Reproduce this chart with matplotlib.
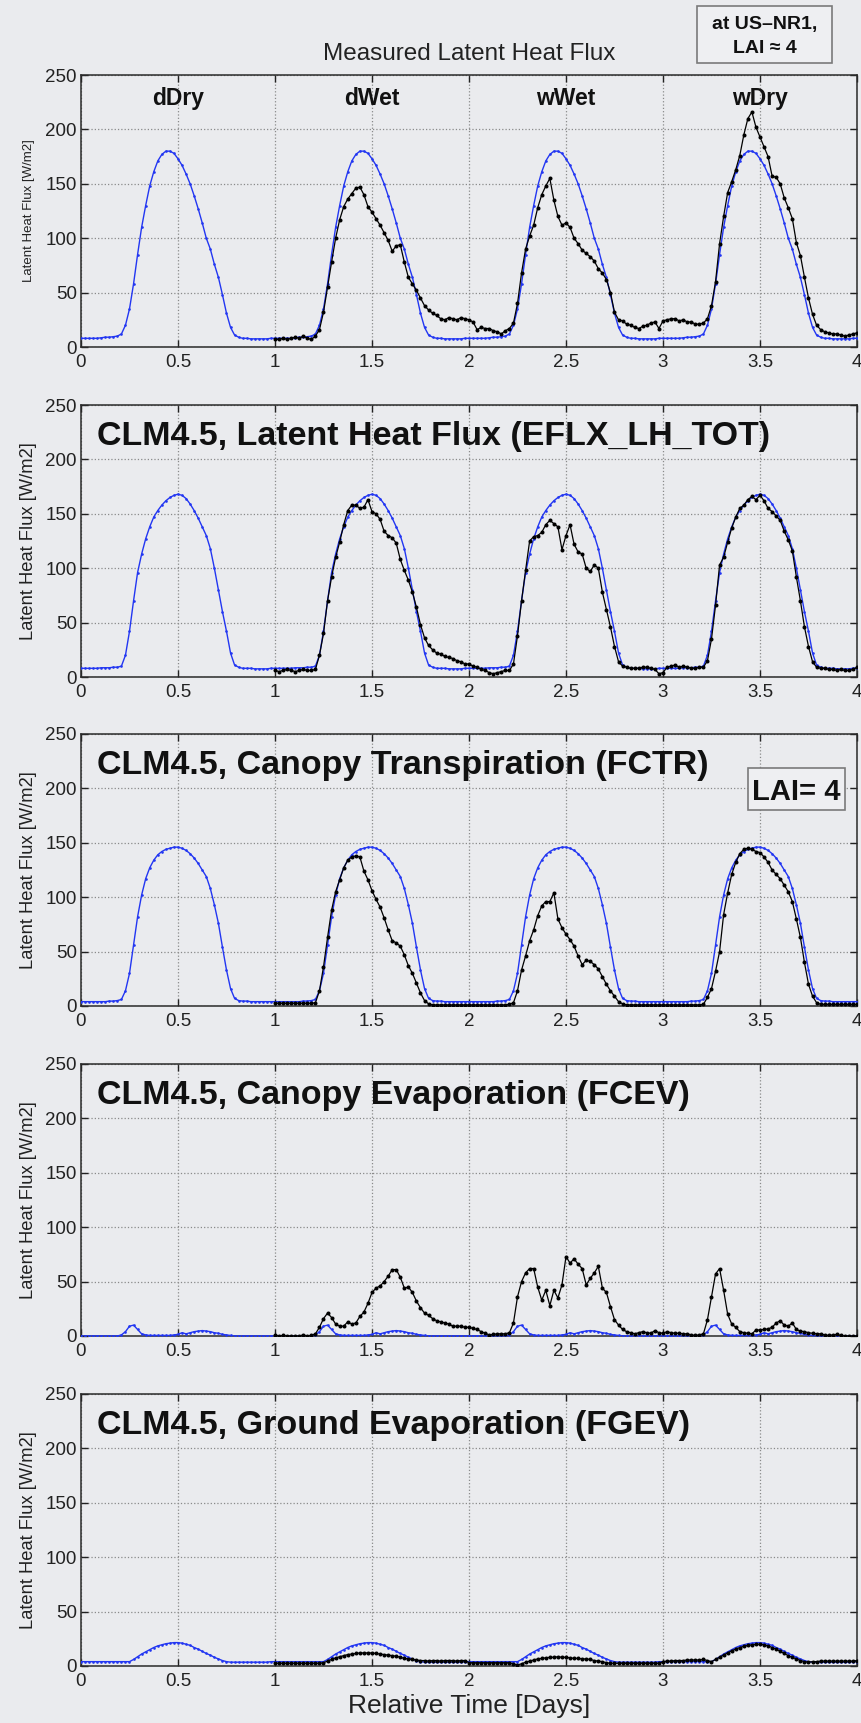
import numpy as np
import matplotlib
matplotlib.use("Agg")
import matplotlib.pyplot as plt
from matplotlib.patches import Rectangle

# ---------------- data (half-hourly, 48 per day) ----------------
x_ticks = [0, 0.5, 1, 1.5, 2, 2.5, 3, 3.5, 4]
x_tick_labels = ["0", "0.5", "1", "1.5", "2", "2.5", "3", "3.5", "4"]
y_ticks = [0, 50, 100, 150, 200, 250]

panel_titles = ["", "CLM4.5, Latent Heat Flux (EFLX_LH_TOT)",
                "CLM4.5, Canopy Transpiration (FCTR)",
                "CLM4.5, Canopy Evaporation (FCEV)",
                "CLM4.5, Ground Evaporation (FGEV)"]
regime_labels = ["dDry", "dWet", "wWet", "wDry"]
regime_pos = [0.5, 1.5, 2.5, 3.5]

# blue: one diurnal cycle (repeated each day in the figure)
meas_blue_day = [8, 8, 8, 8, 8, 8.5, 9, 9, 9.5, 10, 12, 20,
                 35, 58, 85, 110, 130, 148, 161, 171, 177, 180, 180, 178,
                 173, 167, 159, 150, 139, 127, 114, 100, 90, 76, 64, 48,
                 31, 18, 11, 9, 8, 8, 7.5, 7.5, 7.5, 7.5, 7.5, 8]
meas_black = [7, 7, 8, 7, 8, 9, 8, 10, 8, 7, 10, 16,
              32, 55, 78, 100, 117, 129, 136, 141, 146, 147, 140, 129,
              124, 118, 112, 105, 98, 88, 93, 94, 78, 64, 58, 52,
              45, 38, 34, 31, 29, 26, 25, 27, 26, 25, 27, 26,
              25, 23, 16, 18, 17, 17, 15, 14, 12, 15, 17, 22,
              40, 68, 90, 102, 112, 128, 140, 148, 155, 135, 120, 112,
              114, 110, 100, 95, 89, 86, 83, 79, 72, 68, 62, 50,
              32, 25, 24, 21, 20, 18, 17, 19, 20, 22, 23, 17,
              24, 25, 26, 26, 24, 25, 23, 23, 21, 21, 22, 26,
              38, 60, 95, 120, 142, 152, 163, 176, 195, 210, 216, 202,
              193, 184, 175, 157, 156, 150, 137, 128, 118, 96, 84, 64,
              45, 30, 20, 16, 14, 13, 12, 12, 11, 10, 11, 12,
              13]

lh_blue_day = [8, 8, 8, 8, 8, 8.5, 8.5, 8.5, 9, 9, 10, 20,
               42, 70, 96, 113, 127, 138, 147, 153, 158, 162, 165, 167,
               168, 167, 164, 159, 153, 146, 138, 130, 118, 100, 80, 60,
               42, 22, 11, 9, 8, 8, 8, 7.5, 7.5, 7.5, 7.5, 8]
lh_black = [6, 5, 6, 7, 6, 5, 6, 7, 6, 6, 7, 20,
            40, 70, 92, 110, 124, 140, 153, 158, 158, 155, 156, 163,
            152, 150, 145, 134, 130, 128, 123, 108, 98, 89, 78, 64,
            48, 36, 29, 25, 22, 21, 19, 18, 17, 15, 14, 12,
            12, 10, 9, 7, 6, 4, 3, 4, 5, 6, 6, 12,
            38, 70, 98, 125, 129, 130, 133, 140, 144, 141, 138, 117,
            130, 140, 122, 115, 113, 100, 97, 103, 100, 78, 62, 46,
            28, 14, 10, 9, 8, 8, 8, 9, 9, 8, 7, 3,
            4, 9, 10, 11, 9, 10, 9, 8, 8, 9, 9, 15,
            35, 66, 103, 110, 124, 137, 147, 155, 158, 163, 166, 163,
            167, 162, 155, 152, 148, 144, 134, 126, 116, 92, 70, 46,
            28, 14, 9, 8, 8, 7, 7, 6, 7, 6, 6, 7,
            9]

fctr_blue_day = [4, 4, 4, 4, 4, 4, 4, 4.5, 4.5, 5, 6, 14,
                 30, 56, 82, 102, 117, 127, 134, 139, 142, 144, 145, 146,
                 146, 145, 143, 140, 136, 131, 125, 119, 108, 93, 76, 54,
                 33, 16, 7, 5, 4.5, 4.5, 4, 4, 4, 4, 4, 4]
fctr_black = [2.5, 2.5, 2.5, 2.5, 2.5, 2.5, 2.5, 2.5, 2.5, 2.5, 3, 14,
              36, 63, 88, 105, 116, 127, 134, 137, 138, 137, 124, 116,
              106, 98, 91, 81, 70, 60, 58, 55, 47, 37, 30, 21,
              12, 5, 2, 1, 1, 1, 1, 1, 1, 1, 1, 1,
              1, 1, 1, 1, 1, 1, 1, 1, 1, 1, 1.5, 3,
              14, 33, 46, 60, 70, 83, 92, 96, 96, 104, 80, 72,
              66, 61, 55, 46, 38, 42, 41, 38, 34, 27, 20, 14,
              9, 4, 2, 1, 1, 1, 1, 1, 1, 1, 1, 1,
              1, 1, 1, 1, 1, 1, 1, 1, 1, 1, 1.5, 8,
              16, 32, 50, 84, 104, 121, 132, 140, 144, 145, 144, 142,
              141, 137, 132, 125, 121, 117, 111, 105, 96, 80, 63, 40,
              20, 9, 3, 1.5, 1.5, 1.5, 1.5, 1.5, 1.5, 1.5, 1.5, 1.5,
              1.5]

fcev_blue_day = [0, 0, 0, 0, 0, 0, 0, 0, 0, 0, 1, 4,
                 9, 10, 6, 2, 1, 0.5, 0.5, 0.5, 0.5, 0.5, 0.5, 1,
                 1.5, 3, 2, 3, 4, 4.5, 5, 4.5, 4, 3, 2.5, 1.5,
                 1, 0.5, 0, 0, 0, 0, 0, 0, 0, 0, 0, 0]
fcev_black = [1, 0, 0.5, 0, 0, 0, 0, 1, 0, 0.5, 2, 8,
              16, 21, 17, 11, 9, 9, 13, 11, 12, 18, 22, 30,
              40, 44, 46, 50, 55, 61, 61, 54, 44, 45, 40, 32,
              26, 21, 19, 16, 14, 13, 12, 11, 9, 9, 9, 8,
              8, 7, 6, 4, 2.5, 1, 1.5, 2, 2, 2, 3, 12,
              36, 50, 58, 62, 62, 45, 33, 42, 28, 42, 35, 47,
              73, 67, 71, 66, 62, 47, 53, 58, 64, 44, 40, 27,
              15, 10, 6, 4, 3, 2, 3, 4, 3, 2.5, 5, 3,
              2.5, 4, 3, 2.5, 2.5, 2, 2, 1, 0.5, 1, 2, 15,
              36, 57, 62, 42, 20, 11, 8, 4, 3, 2.5, 2, 5.5,
              5.5, 6, 6.5, 8, 12, 14, 10, 9, 12, 6, 4.5, 4,
              3, 2.5, 2, 2, 1, 0.5, 1, 1.5, 0.5, 0, 0, 0,
              0]

fgev_blue_day = [4, 4, 4, 4, 4, 4, 4, 4, 4, 4, 4, 4,
                 4, 6, 8.5, 11, 13, 15, 17, 18.5, 19.5, 20.5, 21, 21.5,
                 21.5, 21, 20, 19, 17, 15.5, 13.5, 11.5, 10, 8, 6.5, 5,
                 4, 3.5, 3.5, 3.5, 3.5, 3.5, 3.5, 3.5, 3.5, 3.5, 3.5, 4]
fgev_black = [2.5, 2.5, 2.5, 2.5, 2.5, 2.5, 2.5, 2.5, 2.5, 2.5, 2.5, 2.5,
              3, 4.5, 6, 7.5, 8.5, 9.5, 10.5, 11, 11.5, 12, 12, 12,
              12, 11.5, 11, 10.5, 10, 9.5, 9, 8, 7, 6.5, 6, 5.5,
              5, 5, 4.5, 5, 5, 4.5, 5, 5, 5, 4.5, 5, 5,
              3, 3, 3, 3, 3, 3, 3, 3, 3, 3, 3, 2,
              1, 2, 3.5, 4.5, 5.5, 6.5, 7, 7.5, 8, 8, 8.5, 8,
              8, 7.5, 7, 7, 6.5, 6.5, 6, 5, 4.5, 4, 3, 2.5,
              2.5, 2.5, 2.5, 2.5, 2.5, 2.5, 2.5, 2.5, 2.5, 2.5, 2.5, 2.5,
              4, 4.5, 4.5, 5, 5, 5, 5.5, 5.5, 5.5, 5.5, 6, 5,
              4, 6, 8, 10, 12, 14, 15.5, 17, 18, 19, 19.5, 20,
              20, 19.5, 18.5, 17, 15.5, 13.5, 11.5, 9.5, 8, 6.5, 5, 4,
              3.5, 4, 4, 4.5, 4.5, 4.5, 4.5, 4.5, 4.5, 4.5, 4.5, 4.5,
              5]

blue_days = [meas_blue_day, lh_blue_day, fctr_blue_day, fcev_blue_day, fgev_blue_day]
black_series = [meas_black, lh_black, fctr_black, fcev_black, fgev_black]

# ---------------- figure ----------------
plt.rcParams['font.family'] = ['Liberation Sans', 'DejaVu Sans']
W, H = 862, 1723
BG = '#eaebee'
BLUE = '#2236f2'
fig = plt.figure(figsize=(W / 100, H / 100), dpi=100)
fig.patch.set_facecolor(BG)


def fx(px):
    return px / W


def fy(py):
    return 1 - py / H


ax_left, ax_right = 81, 857
panel_bottoms = [347, 677, 1006, 1336, 1666]
ax_h = 272

axes = []
for i in range(5):
    ax = fig.add_axes([fx(ax_left), fy(panel_bottoms[i]), (ax_right - ax_left) / W, ax_h / H])
    ax.set_facecolor(BG)
    blue = np.array(blue_days[i] * 4 + [blue_days[i][0]], dtype=float)
    tb = np.arange(len(blue)) / 48.0
    blk = np.array(black_series[i], dtype=float)
    tk = 1 + np.arange(len(blk)) / 48.0
    ax.plot(tb, blue, color=BLUE, lw=1.0, marker='o', ms=1.9, mew=0, zorder=3)
    ax.plot(tk, blk, color='k', lw=0.9, marker='o', ms=2.9, mew=0, zorder=4)
    ax.set_xlim(0, 4)
    ax.set_ylim(0, 250)
    ax.set_xticks(x_ticks)
    ax.set_xticklabels(x_tick_labels)
    ax.set_yticks(y_ticks)
    ax.grid(True, linestyle=':', color='#8a8a8a', linewidth=0.9)
    ax.set_axisbelow(True)
    ax.tick_params(direction='in', top=True, right=True, length=5, width=1,
                   labelsize=13.5, colors='#222222', pad=5)
    ax.tick_params(axis='y', pad=3)
    for sp in ax.spines.values():
        sp.set_color('#2a2a2a')
        sp.set_linewidth(1.1)
    if i == 0:
        ax.set_ylabel('Latent Heat Flux [W/m2]', fontsize=9.5, color='#222222')
        ax.yaxis.set_label_coords(-0.059, 0.5)
    else:
        ax.set_ylabel('Latent Heat Flux [W/m2]', fontsize=13.2, color='#222222')
        ax.yaxis.set_label_coords(-0.057, 0.5)
        ax.text(0.0206, 0.852, panel_titles[i], transform=ax.transAxes,
                fontsize=24.5, fontweight='bold', va='baseline', ha='left', color='#111111')
    axes.append(ax)

# regime labels in the top panel
for lab, pos in zip(regime_labels, regime_pos):
    axes[0].text(pos, 222, lab, ha='center', va='baseline', fontsize=16.5,
                 fontweight='bold', color='#111111')

# x label
axes[4].set_xlabel('Relative Time [Days]', fontsize=19, color='#222222')
axes[4].xaxis.set_label_coords(0.5, -0.103)

# top title
fig.text(fx(469), fy(60), 'Measured Latent Heat Flux', ha='center', va='baseline',
         fontsize=17.5, color='#222222')

# top-right box
fig.patches.append(Rectangle((fx(697), fy(63)), 135 / W, 57 / H, transform=fig.transFigure,
                             facecolor='#eeeff2', edgecolor='#7a7a7a', lw=1.2, zorder=5))
fig.text(fx(764.5), fy(29), 'at US\u2013NR1,', ha='center', va='baseline', fontsize=14,
         fontweight='bold', color='#111111', zorder=6)
fig.text(fx(764.5), fy(53), 'LAI \u2248 4', ha='center', va='baseline', fontsize=14,
         fontweight='bold', color='#111111', zorder=6)

# LAI box in FCTR panel
fig.patches.append(Rectangle((fx(748), fy(810)), 97 / W, 42 / H, transform=fig.transFigure,
                             facecolor='#eeeff2', edgecolor='#7a7a7a', lw=1.2, zorder=5))
fig.text(fx(796.5), fy(800), 'LAI= 4', ha='center', va='baseline', fontsize=21,
         fontweight='bold', color='#111111', zorder=6)

fig.savefig('out.png', dpi=100, facecolor=BG)
